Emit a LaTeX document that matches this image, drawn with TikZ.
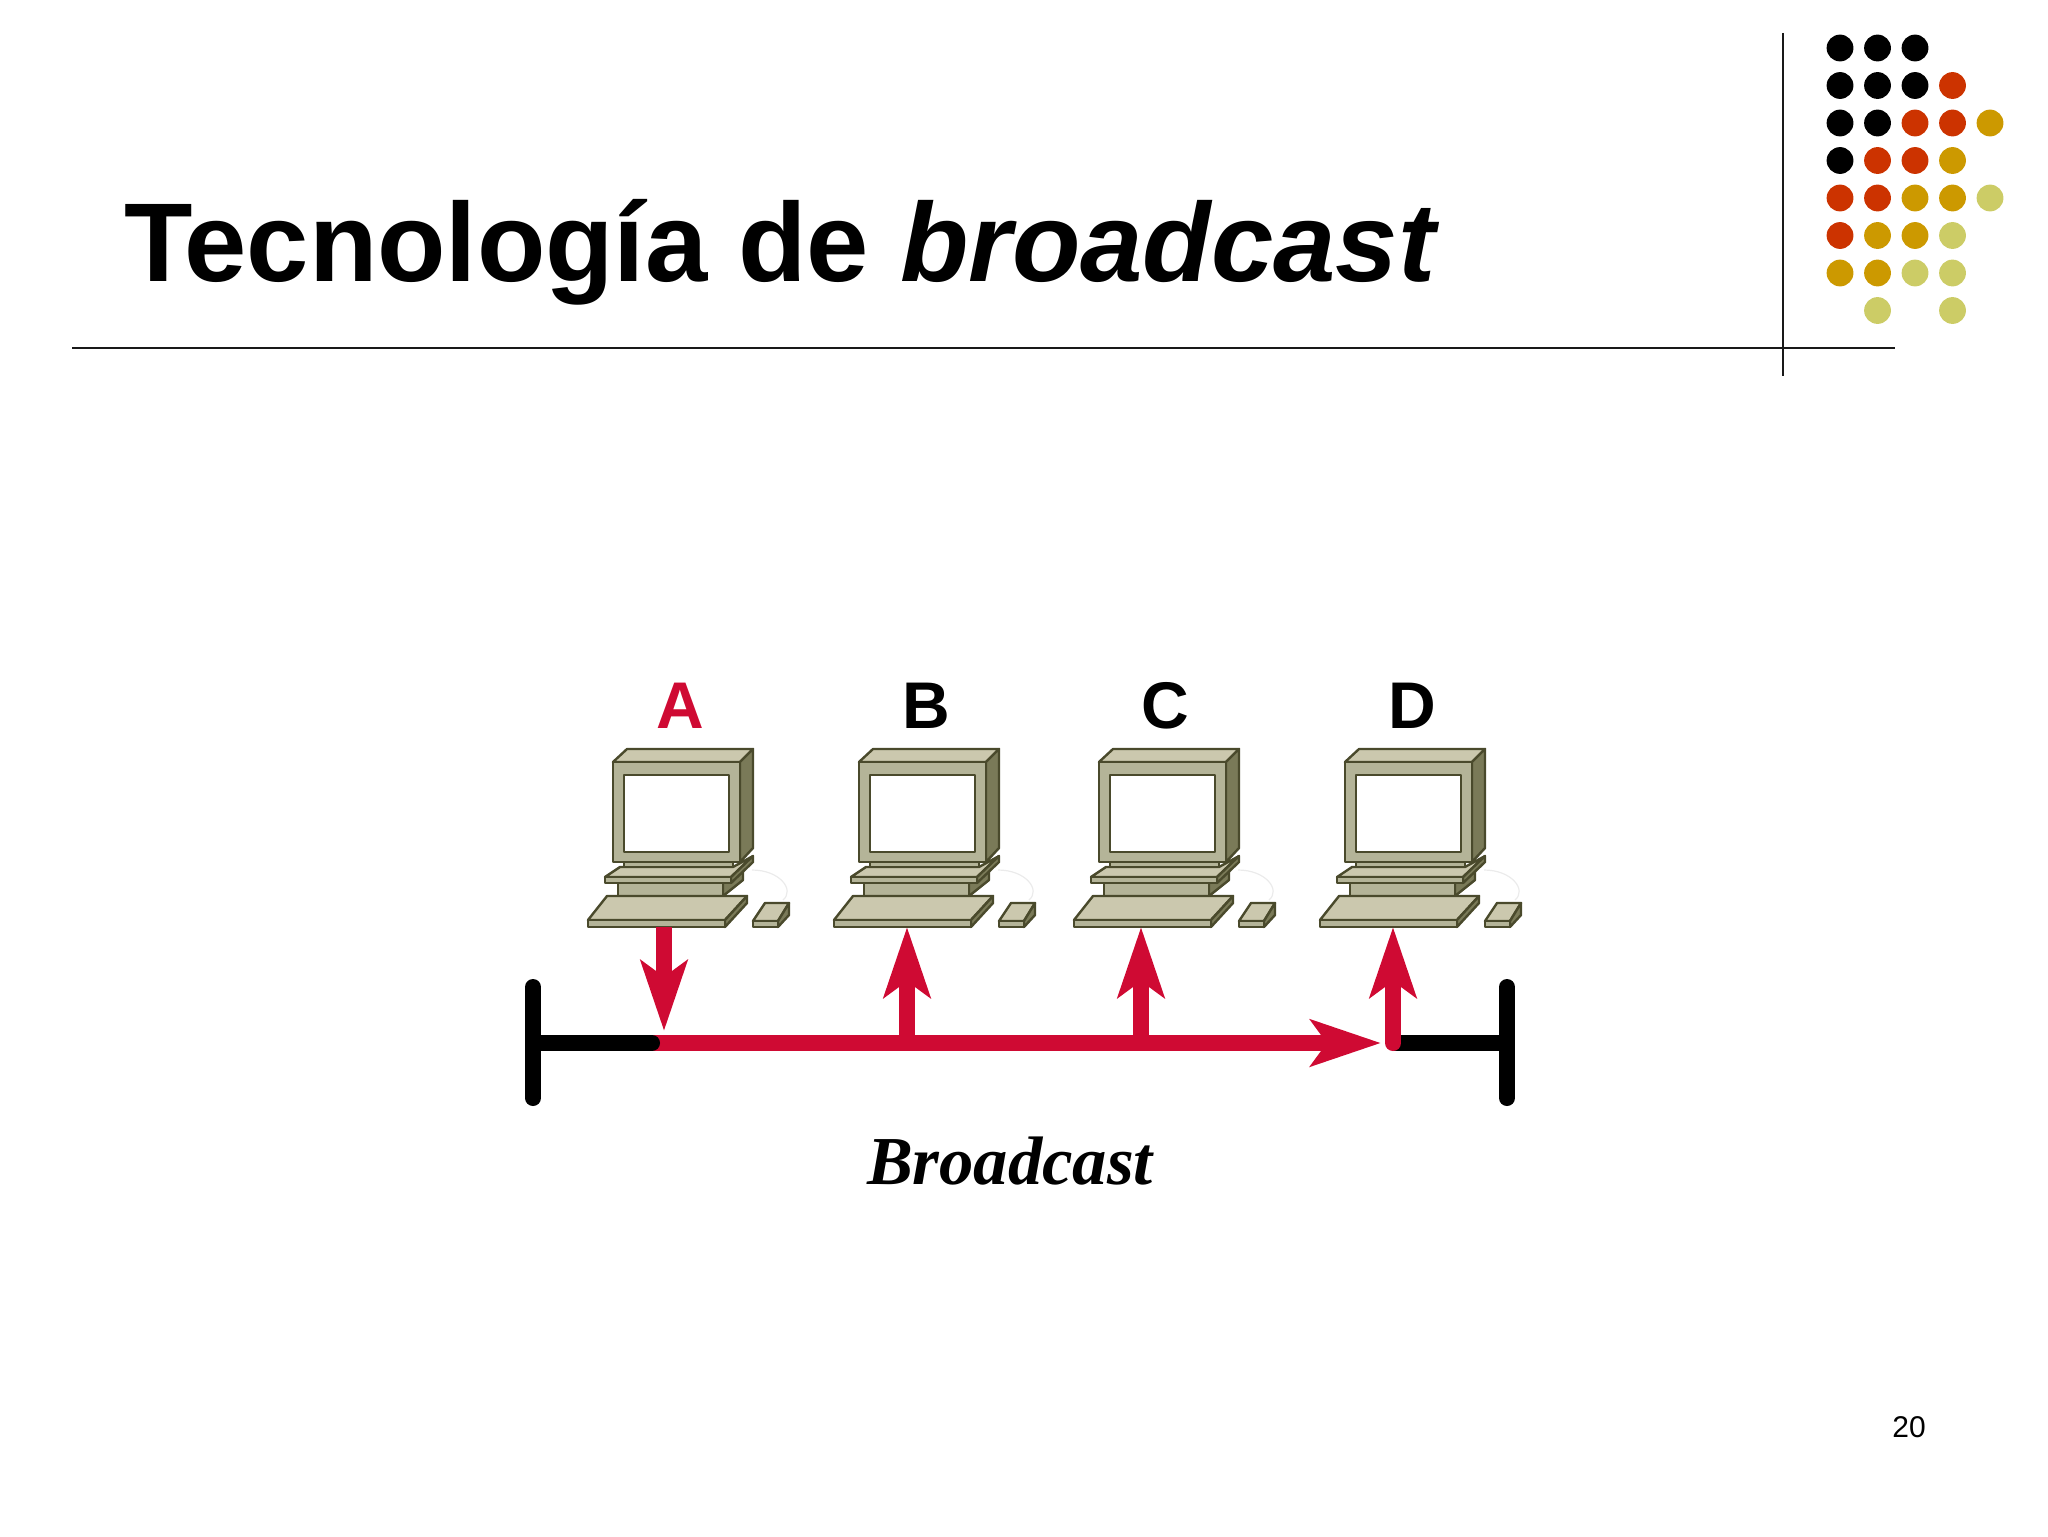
\documentclass[tikz,border=0pt]{standalone}
\usepackage{fontspec}
\setmainfont{Liberation Sans}
\newfontfamily\timesfont{Liberation Serif}
\usetikzlibrary{arrows.meta}
\definecolor{dotred}{HTML}{CC3300}
\definecolor{dotgold}{HTML}{CC9900}
\definecolor{dotlime}{HTML}{CCCC66}
\definecolor{netred}{HTML}{CF0A33}
\definecolor{pcline}{HTML}{4A4A2C}
\definecolor{pcfront}{HTML}{B4B498}
\definecolor{pctop}{HTML}{CBC8AE}
\definecolor{pcside}{HTML}{7A7A58}
\tikzset{
    rule/.style={line width=1.3pt,draw=black!90},
    busline/.style={line width=8pt,line cap=round,draw=black},
    redline/.style={line width=8pt,draw=netred},
    redarrow/.style={redline,-{Stealth[length=35pt,width=23pt,inset=8pt,fill=netred]}},
    pcpart/.style={draw=pcline,line width=1.2pt,line join=round},
    pclabel/.style={font=\fontsize{33}{33}\selectfont\bfseries,anchor=base,inner sep=0pt},
    computer/.pic={
        % case
        \draw[draw=black!8,line width=.6pt] (752,870) .. controls (780,870) and (795,890) .. (783,900);
        \filldraw[pcpart,fill=pcside] (723,883) -- (743,872) -- (743,880) -- (723,896) -- cycle;
        \filldraw[pcpart,fill=pcfront] (618,883) rectangle (723,896);
        \filldraw[pcpart,fill=pctop] (605,877) -- (620,867) -- (733,867) -- (753,856) -- (731,877) -- cycle;
        \filldraw[pcpart,fill=pcside] (731,877) -- (753,856) -- (753,862) -- (731,883) -- cycle;
        \filldraw[pcpart,fill=pcfront] (605,877) rectangle (731,883);
        % monitor
        \filldraw[pcpart,fill=pcfront] (624,862) rectangle (733,867);
        \filldraw[pcpart,fill=pctop] (613,762) -- (627,749) -- (753,749) -- (740,762) -- cycle;
        \filldraw[pcpart,fill=pcside] (740,762) -- (753,749) -- (753,848) -- (740,862) -- cycle;
        \filldraw[pcpart,fill=pcfront] (613,762) rectangle (740,862);
        \filldraw[pcpart,fill=white] (624,775) rectangle (729,852);
        % keyboard
        \filldraw[pcpart,fill=pctop] (588,920) -- (607,896) -- (747,896) -- (725,920) -- cycle;
        \filldraw[pcpart,fill=pcside] (725,920) -- (747,896) -- (747,903) -- (725,927) -- cycle;
        \filldraw[pcpart,fill=pcfront] (588,920) rectangle (725,927);
        % mouse
        \filldraw[pcpart,fill=pctop] (753,921) -- (765,903) -- (789,903) -- (778,921) -- cycle;
        \filldraw[pcpart,fill=pcside] (778,921) -- (789,903) -- (789,915) -- (778,927) -- cycle;
        \filldraw[pcpart,fill=pcfront] (753,921) rectangle (778,927);
    }
}
\begin{document}
\begin{tikzpicture}[x=0.5pt,y=-0.5pt]
    \useasboundingbox (0,0) rectangle (2048,1536);
    % heading
    \node[anchor=base west,inner sep=0pt,font=\fontsize{56}{56}\selectfont\bfseries] (title) at (124,281)
        {Tecnología de \textit{broadcast}};
    \coordinate (ruleL) at (72,348);
    \coordinate (ruleR) at (1895,348);
    \coordinate (ruleT) at (1783,33);
    \coordinate (ruleB) at (1783,376);
    \draw[rule] (ruleL) -- (ruleR);
    \draw[rule] (ruleT) -- (ruleB);
    % dots in the corner
    \foreach \c/\r in {1/1,2/1,3/1,1/2,2/2,3/2,1/3,2/3,1/4}
        \fill[black] ({1840+37.5*(\c-1)},{48+37.5*(\r-1)}) circle (13.4);
    \foreach \c/\r in {4/2,3/3,4/3,2/4,3/4,1/5,2/5,1/6}
        \fill[dotred] ({1840+37.5*(\c-1)},{48+37.5*(\r-1)}) circle (13.4);
    \foreach \c/\r in {5/3,4/4,3/5,4/5,2/6,3/6,1/7,2/7}
        \fill[dotgold] ({1840+37.5*(\c-1)},{48+37.5*(\r-1)}) circle (13.4);
    \foreach \c/\r in {5/5,4/6,3/7,4/7,2/8,4/8}
        \fill[dotlime] ({1840+37.5*(\c-1)},{48+37.5*(\r-1)}) circle (13.4);
    % computers
    \foreach \name/\dx in {A/0,B/246,C/486,D/732}
        \pic (pc\name) at (\dx,0) {computer};
    \node[pclabel,text=netred] (labelA) at (680,728) {A};
    \node[pclabel] (labelB) at (926,728) {B};
    \node[pclabel] (labelC) at (1165,728) {C};
    \node[pclabel] (labelD) at (1412,728) {D};
    % network
    \coordinate (endLtop) at (533,987);
    \coordinate (endLbot) at (533,1098);
    \coordinate (endRtop) at (1507,987);
    \coordinate (endRbot) at (1507,1098);
    \coordinate (endL) at (533,1043);
    \coordinate (endR) at (1507,1043);
    \coordinate (startBus) at (652,1043);
    \coordinate (tapA) at (652,1043);
    \coordinate (tapB) at (907,1043);
    \coordinate (tapC) at (1141,1043);
    \coordinate (tapD) at (1393,1043);
    \coordinate (busTip) at (1381,1043);
    \coordinate (sendA) at (664,927);
    \coordinate (hitA) at (664,1031);
    \coordinate (hitB) at (907,927);
    \coordinate (hitC) at (1141,927);
    \coordinate (hitD) at (1393,927);
    \draw[redarrow] (startBus) -- (busTip);
    \draw[busline] (endLtop) -- (endLbot);
    \draw[busline] (endRtop) -- (endRbot);
    \draw[busline] (endL) -- (tapA);
    \draw[busline,line cap=butt] (tapD) -- (endR);
    \draw[redarrow] (sendA) -- (hitA);
    \draw[redarrow] (tapB) -- (hitB);
    \draw[redarrow] (tapC) -- (hitC);
    \draw[redarrow,line cap=round] (tapD) -- (hitD);
    % caption and page number
    \node[anchor=base,inner sep=0pt,font=\timesfont\fontsize{34.3}{36}\selectfont\bfseries\itshape] (caption) at (1010,1184) {Broadcast};
    \node[anchor=base,inner sep=0pt,font=\fontsize{15}{15}\selectfont] (pageno) at (1909,1437) {20};
\end{tikzpicture}
\end{document}
